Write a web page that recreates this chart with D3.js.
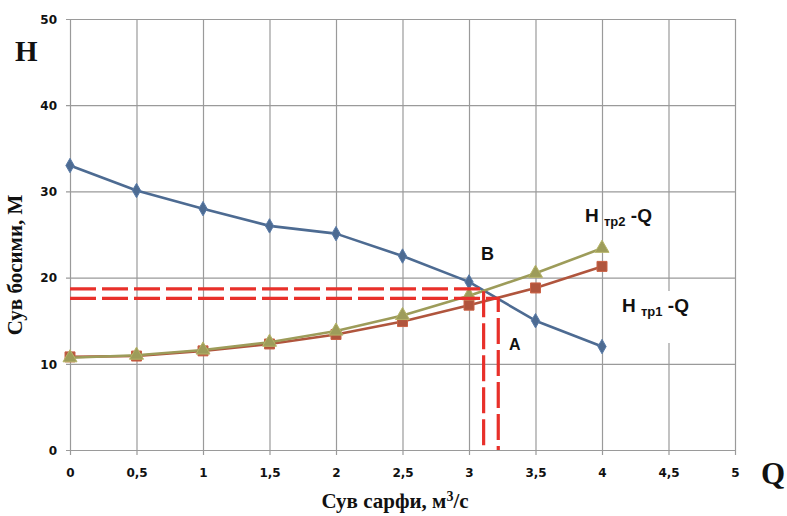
<!DOCTYPE html>
<html>
<head>
<meta charset="utf-8">
<script src="https://cdn.jsdelivr.net/npm/d3@7"></script>
<style>
  body { margin: 0; background: #fff; }
</style>
</head>
<body>
<div id="chart"></div>
<script>
// Data
var flowQ = [0, 0.5, 1, 1.5, 2, 2.5, 3, 3.5, 4];
var pumpH = [33, 30.1, 28, 26, 25.1, 22.5, 19.5, 15, 12];
var pipe1H = [10.8, 10.9, 11.5, 12.3, 13.4, 14.9, 16.8, 18.8, 21.3];
var pipe2H = [10.7, 11, 11.6, 12.5, 13.8, 15.6, 17.9, 20.5, 23.4];
var xTicks = [0, 0.5, 1, 1.5, 2, 2.5, 3, 3.5, 4, 4.5, 5];
var yTicks = [0, 10, 20, 30, 40, 50];
// working points: [Q, H]
var pointB = [3.11, 18.7];
var pointA = [3.22, 17.6];

function PumpChart() {
    var attrs = {
        svgWidth: 787,
        svgHeight: 516,
        marginTop: 19,
        marginLeft: 70,
        marginRight: 52,
        marginBottom: 66,
        container: 'body',
        gridColor: '#9a9a9a',
        pumpColor: '#4d6b92',
        pipe1Color: '#b0553d',
        pipe2Color: '#9d9c5a',
        dashColor: '#e8302a',
        tickFont: '"DejaVu Sans", Verdana, sans-serif',
        serifFont: '"Liberation Serif", "Times New Roman", serif',
        labelFont: '"Liberation Sans", Arial, sans-serif'
    };

    var main = function (selection) {
        selection.each(function () {
            var container = d3.select(this);

            var calc = {};
            calc.chartWidth = attrs.svgWidth - attrs.marginLeft - attrs.marginRight;
            calc.chartHeight = attrs.svgHeight - attrs.marginTop - attrs.marginBottom;

            /*########## SCALES ##########*/
            var x = d3.scaleLinear().domain([0, 5]).range([0, calc.chartWidth]);
            var y = d3.scaleLinear().domain([0, 50]).range([calc.chartHeight, 0]);

            var line = d3.line()
                .x(function (d) { return x(d[0]); })
                .y(function (d) { return y(d[1]); });

            /*########## DRAWING ##########*/
            var svg = container.patternify({ tag: 'svg', selector: 'svg-chart-container' })
                .attr('width', attrs.svgWidth)
                .attr('height', attrs.svgHeight);

            svg.patternify({ tag: 'rect', selector: 'bg' })
                .attr('width', attrs.svgWidth).attr('height', attrs.svgHeight)
                .attr('fill', '#fff');

            var chart = svg.patternify({ tag: 'g', selector: 'chart' })
                .attr('transform', 'translate(' + attrs.marginLeft + ',' + attrs.marginTop + ')');

            // grid + axes
            var xAxis = d3.axisBottom(x).tickValues(xTicks)
                .tickSize(-calc.chartHeight - 5).tickSizeOuter(0)
                .tickFormat(function (d) { return String(d).replace('.', ','); });
            var yAxis = d3.axisLeft(y).tickValues(yTicks)
                .tickSize(-calc.chartWidth - 4).tickSizeOuter(0);

            var gx = chart.patternify({ tag: 'g', selector: 'x-axis' })
                .attr('transform', 'translate(0,' + (calc.chartHeight + 5) + ')')
                .call(xAxis);
            var gy = chart.patternify({ tag: 'g', selector: 'y-axis' })
                .attr('transform', 'translate(-4,0)')
                .call(yAxis);

            [gx, gy].forEach(function (g) {
                g.select('.domain').remove();
                g.selectAll('.tick line').attr('stroke', attrs.gridColor).attr('stroke-width', 1.2);
                g.selectAll('.tick text')
                    .attr('font-family', attrs.tickFont)
                    .attr('font-weight', 'bold')
                    .attr('font-size', 12)
                    .attr('fill', '#111');
            });
            gx.selectAll('.tick text').attr('dy', '0').attr('y', 22);
            gy.selectAll('.tick text').attr('x', -9).attr('dy', '0.36em');

            // white box behind the lower label
            chart.patternify({ tag: 'rect', selector: 'label-bg' })
                .attr('x', 545).attr('y', 272).attr('width', 114).attr('height', 52)
                .attr('fill', '#fff');

            // curves
            var series = [
                { id: 'pump', values: pumpH, color: attrs.pumpColor, marker: d3.symbolDiamond, size: 60 },
                { id: 'pipe1', values: pipe1H, color: attrs.pipe1Color, marker: d3.symbolSquare, size: 100 },
                { id: 'pipe2', values: pipe2H, color: attrs.pipe2Color, marker: d3.symbolTriangle, size: 85 }
            ];

            var groups = chart.patternify({ tag: 'g', selector: 'series', data: series });
            groups.each(function (s) {
                var g = d3.select(this);
                var pts = flowQ.map(function (q, i) { return [q, s.values[i]]; });
                g.patternify({ tag: 'path', selector: 'curve', data: [pts] })
                    .attr('d', line)
                    .attr('fill', 'none')
                    .attr('stroke', s.color)
                    .attr('stroke-width', 2.6)
                    .attr('stroke-linejoin', 'round');
                g.patternify({ tag: 'path', selector: 'marker', data: pts })
                    .attr('d', d3.symbol().type(s.marker).size(s.size))
                    .attr('transform', function (d) { return 'translate(' + x(d[0]) + ',' + y(d[1]) + ')'; })
                    .attr('fill', s.color)
                    .attr('stroke', d3.color(s.color).brighter(0.4))
                    .attr('stroke-width', 1);
            });

            // dashed working point lines
            var dashes = [pointB, pointA];
            chart.patternify({ tag: 'path', selector: 'dash-line', data: dashes })
                .attr('d', function (p) { return line([[0, p[1]], [p[0], p[1]], [p[0], 0]]); })
                .attr('fill', 'none')
                .attr('stroke', attrs.dashColor)
                .attr('stroke-width', 3.2)
                .attr('stroke-dasharray', '26,6');

            // annotations
            var label = function (selector, txt, px, py, size, family) {
                return svg.patternify({ tag: 'text', selector: selector })
                    .attr('x', px).attr('y', py)
                    .attr('font-family', family || attrs.labelFont)
                    .attr('font-weight', 'bold')
                    .attr('font-size', size)
                    .attr('fill', '#111')
                    .text(txt);
            };

            label('lbl-H', 'H', 15, 61, 29, attrs.serifFont);
            label('lbl-Q', 'Q', 761, 484, 31, attrs.serifFont);
            label('lbl-B', 'B', 481, 260, 18);
            label('lbl-A', 'A', 509, 350, 16);

            var sub = function (selector, subTxt, px, py) {
                var t = label(selector, null, px, py, 19);
                t.selectAll('tspan').remove();
                t.append('tspan').text('H ');
                t.append('tspan').attr('font-size', 13).attr('dy', 4).text('тр' + subTxt);
                t.append('tspan').attr('dy', -4).text(' -Q');
            };
            sub('lbl-tr2', '2', 585, 222);
            sub('lbl-tr1', '1', 622, 312);

            label('x-title', null, 395, 508, 21, attrs.serifFont)
                .attr('text-anchor', 'middle')
                .call(function (t) {
                    t.selectAll('tspan').remove();
                    t.append('tspan').text('Сув сарфи, м');
                    t.append('tspan').attr('font-size', 14).attr('dy', -7).text('3');
                    t.append('tspan').attr('dy', 7).text('/с');
                });

            label('y-title', 'Сув босими, М', 0, 0, 21, attrs.serifFont)
                .attr('text-anchor', 'middle')
                .attr('transform', 'translate(22,265) rotate(-90)');
        });
    };

    d3.selection.prototype.patternify = function (params) {
        var container = this;
        var selector = params.selector;
        var data = params.data || [selector];
        var selection = container.selectAll('.' + selector).data(data);
        selection.exit().remove();
        selection = selection.enter().append(params.tag).merge(selection);
        selection.attr('class', selector);
        return selection;
    };

    main.run = function () {
        d3.selectAll(attrs.container).call(main);
        return main;
    };

    main.container = function (_) {
        if (!arguments.length) return attrs.container;
        attrs.container = _;
        return main;
    };

    return main;
}

PumpChart().container('#chart').run();
</script>
</body>
</html>
